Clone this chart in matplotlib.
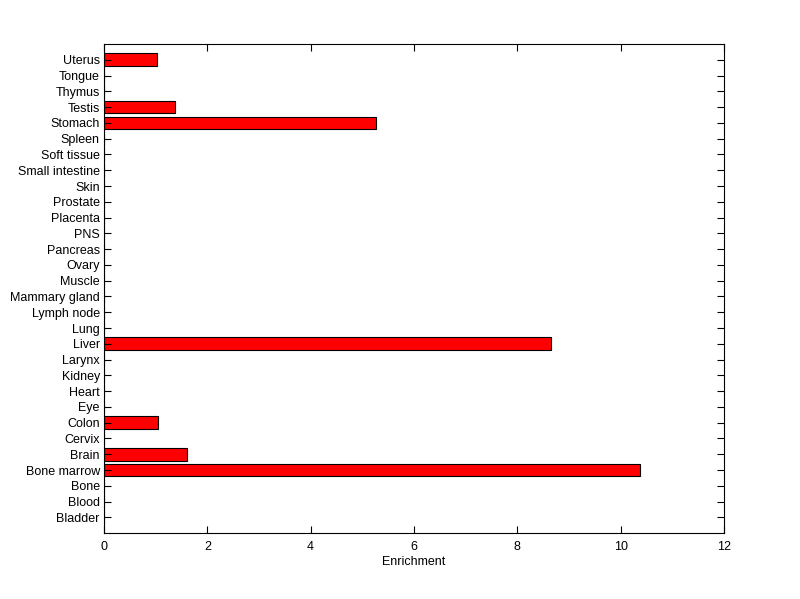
import matplotlib
matplotlib.use("Agg")
import matplotlib.pyplot as plt

categories = ["Bladder", "Blood", "Bone", "Bone marrow", "Brain", "Cervix", "Colon",
              "Eye", "Heart", "Kidney", "Larynx", "Liver", "Lung", "Lymph node",
              "Mammary gland", "Muscle", "Ovary", "Pancreas", "PNS", "Placenta",
              "Prostate", "Skin", "Small intestine", "Soft tissue", "Spleen",
              "Stomach", "Testis", "Thymus", "Tongue", "Uterus"]
values = [0, 0, 0, 10.37, 1.61, 0, 1.05,
          0, 0, 0, 0, 8.66, 0, 0,
          0, 0, 0, 0, 0, 0,
          0, 0, 0, 0, 0,
          5.26, 1.38, 0, 0, 1.03]
xticks = [0, 2, 4, 6, 8, 10, 12]

plt.rcParams['font.family'] = ['Liberation Sans', 'DejaVu Sans']
fig = plt.figure(figsize=(8, 5.99), dpi=100)
ax = fig.add_axes([0.13, 0.110, 0.775, 0.8165])
pos = list(range(1, len(categories) + 1))
ax.barh(pos, values, height=0.8, color='#ff0000', edgecolor='black', linewidth=0.8)
ax.set_ylim(0, len(categories) + 1)
ax.set_xlim(0, 12)
ax.set_yticks(pos)
ax.set_yticklabels(categories, fontsize=9)
ax.set_xticks(xticks)
ax.set_xticklabels([str(t) for t in xticks], fontsize=9)
ax.set_xlabel("Enrichment", fontsize=9, labelpad=2)
ax.tick_params(direction='in', length=5, width=0.8, top=True, right=True)
ax.tick_params(axis='x', pad=6)
ax.tick_params(axis='y', pad=3)
for s in ax.spines.values():
    s.set_linewidth(0.8)
fig.savefig("out.png", dpi=100)
